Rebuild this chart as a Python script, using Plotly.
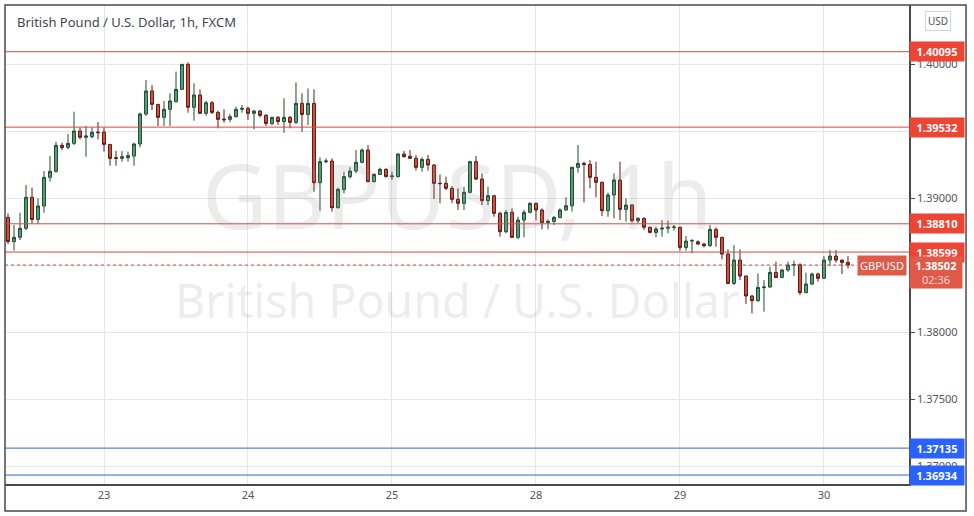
import plotly.graph_objects as go

# ---------------------------------------------------------------------------
# GBPUSD 1h candles (bar index 0 = 22nd 08:00)
# ---------------------------------------------------------------------------

opens = [
    1.38858, 1.38677, 1.38709, 1.38776, 1.39008, 1.38843, 1.38943, 1.39157, 1.39202, 1.39396,
    1.39381, 1.39411, 1.39503, 1.39456, 1.39461, 1.39495, 1.39495, 1.39403, 1.39304, 1.39299,
    1.39304, 1.39316, 1.39406, 1.39630, 1.39802, 1.39702, 1.39605, 1.39665, 1.39722, 1.39814,
    1.40001, 1.39680, 1.39772, 1.39635, 1.39714, 1.39642, 1.39592, 1.39590, 1.39610, 1.39665,
    1.39672, 1.39635, 1.39652, 1.39620, 1.39560, 1.39605, 1.39573, 1.39605, 1.39568, 1.39709,
    1.39627, 1.39709, 1.39117, 1.39274, 1.39279, 1.38930, 1.39067, 1.39162, 1.39204, 1.39269,
    1.39361, 1.39125, 1.39179, 1.39217, 1.39162, 1.39162, 1.39331, 1.39314, 1.39299, 1.39232,
    1.39291, 1.39249, 1.39112, 1.39112, 1.39075, 1.38993, 1.38963, 1.39045, 1.39274, 1.39144,
    1.38983, 1.39020, 1.38888, 1.38751, 1.38896, 1.38709, 1.38838, 1.38896, 1.38963, 1.38913,
    1.38818, 1.38828, 1.38858, 1.38913, 1.38945, 1.39232, 1.39261, 1.39254, 1.39157, 1.39120,
    1.38908, 1.39025, 1.39137, 1.38918, 1.38950, 1.38833, 1.38851, 1.38784, 1.38746, 1.38771,
    1.38777, 1.38784, 1.38784, 1.38634, 1.38681, 1.38676, 1.38659, 1.38647, 1.38768, 1.38709,
    1.38584, 1.38365, 1.38539, 1.38420, 1.38271, 1.38236, 1.38333, 1.38338, 1.38447, 1.38410,
    1.38465, 1.38502, 1.38505, 1.38296, 1.38360, 1.38435, 1.38403, 1.38539, 1.38569, 1.38539,
    1.38522,
]
highs = [
    1.38888, 1.38801, 1.38893, 1.39100, 1.39080, 1.39000, 1.39204, 1.39316, 1.39423, 1.39416,
    1.39481, 1.39647, 1.39530, 1.39540, 1.39530, 1.39570, 1.39530, 1.39405, 1.39354, 1.39354,
    1.39349, 1.39416, 1.39640, 1.39884, 1.39846, 1.39705, 1.39727, 1.39784, 1.39946, 1.40003,
    1.40016, 1.39859, 1.39814, 1.39727, 1.39727, 1.39655, 1.39665, 1.39630, 1.39685, 1.39697,
    1.39685, 1.39660, 1.39660, 1.39630, 1.39610, 1.39615, 1.39747, 1.39615, 1.39866, 1.39784,
    1.39821, 1.39814, 1.39306, 1.39299, 1.39299, 1.39080, 1.39199, 1.39232, 1.39361, 1.39373,
    1.39398, 1.39187, 1.39229, 1.39224, 1.39199, 1.39336, 1.39354, 1.39361, 1.39324, 1.39306,
    1.39324, 1.39257, 1.39179, 1.39162, 1.39092, 1.39075, 1.39087, 1.39281, 1.39316, 1.39187,
    1.39087, 1.39025, 1.38900, 1.38913, 1.38925, 1.38863, 1.38913, 1.38970, 1.38968, 1.38925,
    1.38843, 1.38868, 1.38925, 1.39008, 1.39235, 1.39398, 1.39274, 1.39286, 1.39274, 1.39125,
    1.39042, 1.39187, 1.39274, 1.39000, 1.38958, 1.38858, 1.38858, 1.38789, 1.38789, 1.38838,
    1.38833, 1.38801, 1.38789, 1.38719, 1.38694, 1.38686, 1.38669, 1.38801, 1.38783, 1.38712,
    1.38619, 1.38651, 1.38619, 1.38425, 1.38278, 1.38440, 1.38390, 1.38490, 1.38527, 1.38470,
    1.38527, 1.38535, 1.38515, 1.38445, 1.38445, 1.38445, 1.38569, 1.38614, 1.38614, 1.38542,
    1.38569,
]
lows = [
    1.38659, 1.38609, 1.38689, 1.38764, 1.38813, 1.38808, 1.38893, 1.39125, 1.39192, 1.39361,
    1.39366, 1.39398, 1.39441, 1.39311, 1.39448, 1.39441, 1.39349, 1.39244, 1.39244, 1.39274,
    1.39274, 1.39244, 1.39381, 1.39615, 1.39660, 1.39540, 1.39540, 1.39540, 1.39717, 1.39809,
    1.39640, 1.39580, 1.39630, 1.39617, 1.39630, 1.39523, 1.39565, 1.39568, 1.39605, 1.39640,
    1.39585, 1.39515, 1.39605, 1.39540, 1.39545, 1.39548, 1.39490, 1.39523, 1.39555, 1.39498,
    1.39548, 1.39050, 1.38908, 1.39262, 1.38901, 1.38925, 1.39037, 1.39149, 1.39187, 1.39262,
    1.39120, 1.39120, 1.39174, 1.39157, 1.39137, 1.39157, 1.39306, 1.39294, 1.39207, 1.39199,
    1.39207, 1.38995, 1.38963, 1.39062, 1.38963, 1.38913, 1.38913, 1.39037, 1.39137, 1.38950,
    1.38950, 1.38863, 1.38714, 1.38739, 1.38704, 1.38696, 1.38709, 1.38888, 1.38838, 1.38769,
    1.38769, 1.38801, 1.38851, 1.38908, 1.38901, 1.39192, 1.38970, 1.39075, 1.39008, 1.38868,
    1.38863, 1.38850, 1.38838, 1.38826, 1.38818, 1.38813, 1.38764, 1.38739, 1.38709, 1.38714,
    1.38739, 1.38759, 1.38609, 1.38609, 1.38589, 1.38651, 1.38634, 1.38639, 1.38639, 1.38544,
    1.38360, 1.38353, 1.38390, 1.38211, 1.38141, 1.38228, 1.38154, 1.38333, 1.38403, 1.38403,
    1.38452, 1.38420, 1.38278, 1.38291, 1.38353, 1.38378, 1.38398, 1.38495, 1.38520, 1.38435,
    1.38477,
]
closes = [
    1.38677, 1.38709, 1.38776, 1.39008, 1.38843, 1.38943, 1.39157, 1.39202, 1.39396, 1.39379,
    1.39411, 1.39503, 1.39456, 1.39466, 1.39493, 1.39491, 1.39403, 1.39299, 1.39299, 1.39311,
    1.39319, 1.39406, 1.39630, 1.39802, 1.39702, 1.39605, 1.39665, 1.39727, 1.39814, 1.40001,
    1.39680, 1.39772, 1.39635, 1.39714, 1.39642, 1.39590, 1.39587, 1.39610, 1.39665, 1.39672,
    1.39635, 1.39652, 1.39620, 1.39560, 1.39605, 1.39573, 1.39605, 1.39568, 1.39709, 1.39627,
    1.39709, 1.39117, 1.39274, 1.39279, 1.38930, 1.39067, 1.39162, 1.39204, 1.39269, 1.39361,
    1.39125, 1.39179, 1.39217, 1.39162, 1.39167, 1.39331, 1.39311, 1.39299, 1.39232, 1.39291,
    1.39249, 1.39112, 1.39110, 1.39075, 1.38993, 1.38963, 1.39045, 1.39274, 1.39144, 1.38983,
    1.39020, 1.38888, 1.38751, 1.38896, 1.38709, 1.38838, 1.38896, 1.38963, 1.38913, 1.38818,
    1.38828, 1.38858, 1.38913, 1.38945, 1.39232, 1.39261, 1.39254, 1.39157, 1.39120, 1.38908,
    1.39025, 1.39137, 1.38918, 1.38950, 1.38833, 1.38851, 1.38784, 1.38746, 1.38771, 1.38777,
    1.38784, 1.38786, 1.38634, 1.38681, 1.38686, 1.38659, 1.38647, 1.38768, 1.38709, 1.38584,
    1.38365, 1.38539, 1.38420, 1.38271, 1.38236, 1.38335, 1.38338, 1.38447, 1.38410, 1.38465,
    1.38502, 1.38505, 1.38296, 1.38360, 1.38435, 1.38403, 1.38539, 1.38569, 1.38539, 1.38522,
    1.38502,
]
bars = list(range(len(closes)))

# day boundaries on the time axis
day_ticks = [16, 40, 64, 88, 112, 136]
day_labels = ["23", "24", "25", "28", "29", "30"]

# horizontal levels
resistance_levels = [1.40095, 1.39532, 1.38810, 1.38599]
support_levels = [1.37135, 1.36934]
last_price = 1.38502
countdown = "02:36"

price_ticks = [1.370, 1.375, 1.380, 1.385, 1.390, 1.395, 1.400]
price_labels = ["1.37000", "1.37500", "1.38000", "", "1.39000", "", "1.40000"]

# ---------------------------------------------------------------------------
# Theme
# ---------------------------------------------------------------------------

UP_FILL, UP_LINE = "#5c9e76", "#1f4d32"
DN_FILL, DN_LINE = "#d94f3d", "#5c1b13"
RED_LINE, RED_TAG = "#d9483f", "#ee4433"
BLUE_LINE, BLUE_TAG = "#2f62d6", "#2962ff"
PRICE_TAG = "#e05a4a"
GRID = "#e6e6e6"
FRAME = "#4a4a4a"
FONT = "Noto Sans"
WATERMARK = "rgba(140,140,150,0.17)"

fig = go.Figure(
    go.Candlestick(
        x=bars,
        open=opens,
        high=highs,
        low=lows,
        close=closes,
        increasing=dict(fillcolor=UP_FILL, line=dict(color=UP_LINE, width=1)),
        decreasing=dict(fillcolor=DN_FILL, line=dict(color=DN_LINE, width=1)),
        whiskerwidth=0,
        hoverinfo="skip",
    )
)

shapes = []
for lvl in resistance_levels:
    shapes.append(dict(type="line", xref="paper", x0=0, x1=1, yref="y", y0=lvl, y1=lvl,
                       line=dict(color=RED_LINE, width=1)))
for lvl in support_levels:
    shapes.append(dict(type="line", xref="paper", x0=0, x1=1, yref="y", y0=lvl, y1=lvl,
                       line=dict(color=BLUE_LINE, width=1)))
shapes.append(dict(type="line", xref="paper", x0=0, x1=0.94, yref="y", y0=last_price, y1=last_price,
                   line=dict(color=RED_LINE, width=1, dash="dot")))
# outer frame (extends over the price and time axes)
shapes.append(dict(type="rect", xref="paper", yref="paper", x0=0, x1=1.0631, y0=-0.0564, y1=1,
                   line=dict(color=FRAME, width=1.5), fillcolor="rgba(0,0,0,0)", layer="above"))

annotations = [
    dict(text="GBPUSD, 1h", xref="paper", yref="paper", x=0.5, y=0.605, yanchor="middle",
         showarrow=False, font=dict(family=FONT, size=90, color=WATERMARK)),
    dict(text="British Pound / U.S. Dollar", xref="paper", yref="paper", x=0.5, y=0.385,
         yanchor="middle", showarrow=False, font=dict(family=FONT, size=46.5, color=WATERMARK)),
    dict(text="British Pound / U.S. Dollar, 1h, FXCM", xref="paper", yref="paper",
         x=0.011, y=0.9645, xanchor="left", yanchor="middle", showarrow=False,
         font=dict(family=FONT, size=13, color="#434651")),
    dict(text="USD", xref="paper", yref="paper", x=1.0321, y=0.9666, xanchor="center",
         yanchor="middle", showarrow=False, bgcolor="white", bordercolor="#d1d4dc",
         borderwidth=1, borderpad=2, font=dict(family=FONT, size=10, color="#555")),
    dict(text="GBPUSD", xref="paper", yref="y", x=1, y=last_price, xanchor="right",
         yanchor="middle", xshift=-2, showarrow=False, bgcolor=PRICE_TAG, borderpad=2,
         font=dict(family=FONT, size=11, color="white")),
]
for lvl in resistance_levels:
    annotations.append(dict(text=f"<b>{lvl:.5f}</b>", xref="paper", yref="y", x=1, y=lvl,
                            xanchor="left", yanchor="middle", showarrow=False, bgcolor=RED_TAG,
                            width=50, borderpad=2, font=dict(family=FONT, size=11, color="white")))
for lvl in support_levels:
    annotations.append(dict(text=f"<b>{lvl:.5f}</b>", xref="paper", yref="y", x=1, y=lvl,
                            xanchor="left", yanchor="middle", showarrow=False, bgcolor=BLUE_TAG,
                            width=50, borderpad=2, font=dict(family=FONT, size=11, color="white")))
annotations.append(dict(text=f"<b>{last_price:.5f}</b><br><span style='color:#fbd9d4'>{countdown}</span>",
                        xref="paper", yref="y", x=1, y=last_price, xanchor="left", yanchor="top",
                        yshift=9, showarrow=False, bgcolor=PRICE_TAG, width=50, borderpad=1,
                        font=dict(family=FONT, size=11, color="white")))

fig.update_layout(
    width=974,
    height=516,
    margin=dict(l=5, r=65, t=5, b=32),
    paper_bgcolor="white",
    plot_bgcolor="white",
    showlegend=False,
    font=dict(family=FONT, color="#555"),
    xaxis=dict(
        range=[-0.5, 150.17],
        tickvals=day_ticks,
        ticktext=day_labels,
        showgrid=True,
        gridcolor=GRID,
        zeroline=False,
        showline=True,
        linecolor=FRAME,
        linewidth=1.5,
        tickfont=dict(size=11, color="#555"),
        rangeslider=dict(visible=False),
        fixedrange=True,
    ),
    yaxis=dict(
        side="right",
        range=[1.36867, 1.40444],
        tickvals=price_ticks,
        ticktext=price_labels,
        showgrid=True,
        gridcolor=GRID,
        zeroline=False,
        showline=True,
        linecolor=FRAME,
        linewidth=1.5,
        ticks="outside",
        ticklen=4,
        tickcolor=FRAME,
        tickfont=dict(size=11, color="#555"),
        fixedrange=True,
    ),
    shapes=shapes,
    annotations=annotations,
)

# page body margin would push the chart 8px off the window corner
fig.write_html("out.html", config={"displayModeBar": False},
               post_script="document.body.style.margin='0';")
